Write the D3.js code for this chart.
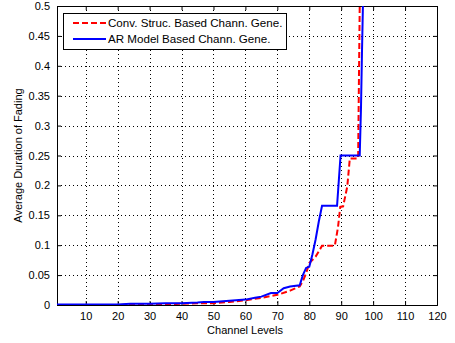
<!DOCTYPE html>
<html>
<head>
<meta charset="utf-8">
<script src="https://cdn.jsdelivr.net/npm/d3@7"></script>
<style>
  body { margin: 0; background: #fff; }
  svg text { font-family: "Liberation Sans", Arial, sans-serif; fill: #000; }
</style>
</head>
<body>
<div id="chart"></div>
<script>
// channel levels and average duration of fading
var arX = [1, 10, 20, 24, 30, 35, 40, 45, 47, 50, 55, 60, 63, 65, 68, 70, 72, 74, 77, 78, 79, 80, 81, 82, 83, 84, 88.7, 89.8, 95.8, 96.2, 96.5, 96.8];
var arY = [0.001, 0.001, 0.001, 0.002, 0.002, 0.003, 0.003, 0.004, 0.005, 0.005, 0.007, 0.009, 0.012, 0.014, 0.02, 0.02, 0.028, 0.031, 0.033, 0.05, 0.062, 0.064, 0.085, 0.11, 0.14, 0.166, 0.166, 0.25, 0.25, 0.33, 0.42, 0.5];

var convX = [1, 20, 30, 35, 40, 45, 50, 55, 60, 65, 70, 74, 77, 78, 79, 80, 82, 84, 88, 89, 89.7, 90.6, 91.9, 92.7, 95.3, 95.5, 95.8];
var convY = [0, 0, 0.001, 0.001, 0.002, 0.003, 0.003, 0.005, 0.008, 0.012, 0.017, 0.024, 0.031, 0.04, 0.053, 0.07, 0.081, 0.099, 0.099, 0.13, 0.164, 0.165, 0.198, 0.245, 0.245, 0.35, 0.5];

var xTicks = [10, 20, 30, 40, 50, 60, 70, 80, 90, 100, 110, 120];
var yTicks = [0, 0.05, 0.1, 0.15, 0.2, 0.25, 0.3, 0.35, 0.4, 0.45, 0.5];

var seriesNames = ["Conv. Struc. Based Chann. Gene.", "AR Model Based Chann. Gene."];

var W = 455, H = 343;
var margin = { top: 6, right: 18, bottom: 38, left: 57 },
    width = W - margin.left - margin.right,
    height = H - margin.top - margin.bottom;

var svg = d3.select("#chart").append("svg")
    .attr("width", W)
    .attr("height", H);

var g = svg.append("g")
    .attr("transform", "translate(" + margin.left + "," + margin.top + ")");

var x = d3.scaleLinear().domain([1, 120]).range([0, width]);
var y = d3.scaleLinear().domain([0, 0.5]).range([height, 0]);

// dotted grid
g.selectAll(".vgrid").data(xTicks.filter(function (d) { return d < 120; }))
    .enter().append("line")
    .attr("x1", function (d) { return Math.round(x(d)) + 0.5; })
    .attr("x2", function (d) { return Math.round(x(d)) + 0.5; })
    .attr("y1", 0).attr("y2", height)
    .attr("stroke", "#000").attr("stroke-width", 1)
    .attr("stroke-dasharray", "1,3");

g.selectAll(".hgrid").data(yTicks.filter(function (d) { return d > 0 && d < 0.5; }))
    .enter().append("line")
    .attr("y1", function (d) { return Math.round(y(d)) + 0.5; })
    .attr("y2", function (d) { return Math.round(y(d)) + 0.5; })
    .attr("x1", 0).attr("x2", width)
    .attr("stroke", "#000").attr("stroke-width", 1)
    .attr("stroke-dasharray", "1,3");

// axes with inward ticks
var fmtY = function (d) { return d === 0 ? "0" : String(+d.toFixed(2)); };

var axBottom = g.append("g").attr("transform", "translate(0," + height + ")")
    .call(d3.axisBottom(x).tickValues(xTicks).tickSize(-4).tickPadding(7));
var axLeft = g.append("g")
    .call(d3.axisLeft(y).tickValues(yTicks).tickSize(-4).tickPadding(7).tickFormat(fmtY));
var axTop = g.append("g")
    .call(d3.axisTop(x).tickValues(xTicks).tickSize(-4).tickFormat(""));
var axRight = g.append("g").attr("transform", "translate(" + width + ",0)")
    .call(d3.axisRight(y).tickValues(yTicks).tickSize(-4).tickFormat(""));

[axBottom, axLeft, axTop, axRight].forEach(function (a) {
    a.selectAll("text").style("font-size", "11px").attr("fill", "#000");
    a.selectAll("line,path").attr("stroke", "#000");
});

// curves
g.append("clipPath").attr("id", "clip")
    .append("rect").attr("width", width).attr("height", height);

var line = d3.line()
    .x(function (d) { return x(d[0]); })
    .y(function (d) { return y(d[1]); });

g.append("path")
    .datum(d3.zip(convX, convY))
    .attr("clip-path", "url(#clip)")
    .attr("fill", "none")
    .attr("stroke", "#ff0000")
    .attr("stroke-width", 2)
    .attr("stroke-dasharray", "6,3")
    .attr("d", line);

g.append("path")
    .datum(d3.zip(arX, arY))
    .attr("clip-path", "url(#clip)")
    .attr("fill", "none")
    .attr("stroke", "#0000ff")
    .attr("stroke-width", 2)
    .attr("d", line);

// legend
var legend = g.append("g").attr("transform", "translate(6,7)");
legend.append("rect")
    .attr("x", 0.5).attr("y", 0.5)
    .attr("width", 223).attr("height", 36)
    .attr("fill", "#fff").attr("stroke", "#000");

var legColors = ["#ff0000", "#0000ff"];
var legDash = ["6,3", null];
seriesNames.forEach(function (name, i) {
    var ly = 10 + i * 16;
    legend.append("line")
        .attr("x1", 10).attr("x2", 43)
        .attr("y1", ly).attr("y2", ly)
        .attr("stroke", legColors[i]).attr("stroke-width", 2)
        .attr("stroke-dasharray", legDash[i]);
    legend.append("text")
        .attr("x", 45).attr("y", ly + 4)
        .style("font-size", "11.6px")
        .text(name);
});

// axis labels
svg.append("text")
    .attr("x", margin.left + width / 2 - 2)
    .attr("y", 334)
    .attr("text-anchor", "middle")
    .style("font-size", "11px")
    .text("Channel Levels");

svg.append("text")
    .attr("transform", "translate(22," + (margin.top + height / 2) + ") rotate(-90)")
    .attr("text-anchor", "middle")
    .style("font-size", "11px")
    .text("Average Duration of Fading");
</script>
</body>
</html>
